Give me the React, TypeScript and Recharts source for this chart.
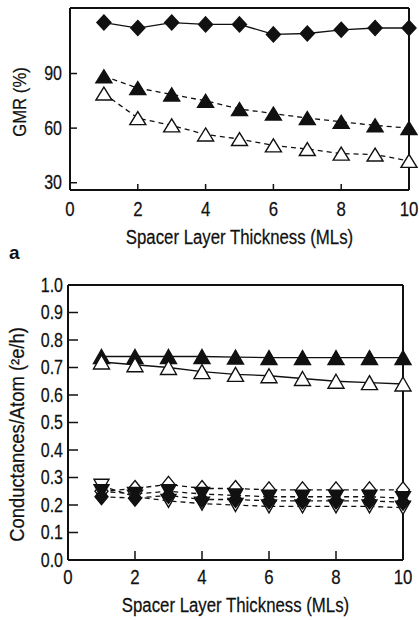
import React from 'react';
import { LineChart, Line, XAxis, YAxis, ReferenceLine } from 'recharts';

// ---------- data ----------
const thickness = [1, 2, 3, 4, 5, 6, 7, 8, 9, 10];

// panel (top): GMR (%)
const gmrFilledDiamond = [118, 115, 118, 117, 117, 111.5, 112, 114, 115, 115];
const gmrFilledTriangle = [88.5, 82, 78.5, 75, 70.5, 68, 65.5, 63.5, 61.5, 60];
const gmrOpenTriangle = [79, 65.5, 61.5, 56.5, 54, 50.5, 48.5, 46, 45.5, 42];
const gmrXTicks = [0, 2, 4, 6, 8, 10];
const gmrYTicks = [30, 60, 90];

// panel a (bottom): conductances / atom
const condFilledTriangle = [0.74, 0.74, 0.74, 0.74, 0.738, 0.736, 0.736, 0.736, 0.736, 0.736];
const condOpenTriangle = [0.72, 0.71, 0.7, 0.685, 0.675, 0.67, 0.66, 0.65, 0.645, 0.64];
const condOpenDiamond = [0.25, 0.26, 0.275, 0.26, 0.26, 0.255, 0.255, 0.255, 0.255, 0.255];
const condFilledDown = [0.25, 0.24, 0.25, 0.24, 0.235, 0.23, 0.23, 0.23, 0.23, 0.225];
const condFilledDiamond = [0.23, 0.225, 0.235, 0.22, 0.22, 0.215, 0.215, 0.215, 0.215, 0.21];
const condOpenDown = [0.27, 0.23, 0.215, 0.205, 0.2, 0.195, 0.195, 0.195, 0.195, 0.19];
const condXTicks = [0, 2, 4, 6, 8, 10];
const condYTicks = [0, 0.1, 0.2, 0.3, 0.4, 0.5, 0.6, 0.7, 0.8, 0.9, 1.0];

const gmrData = thickness.map((x, i) => ({
  x,
  fd: gmrFilledDiamond[i],
  ft: gmrFilledTriangle[i],
  ot: gmrOpenTriangle[i],
}));

const condData = thickness.map((x, i) => ({
  x,
  ft: condFilledTriangle[i],
  ot: condOpenTriangle[i],
  od: condOpenDiamond[i],
  fdn: condFilledDown[i],
  fd: condFilledDiamond[i],
  odn: condOpenDown[i],
}));

// ---------- styling ----------
const INK = '#111';
const FONT = "'Liberation Sans', Arial, Helvetica, sans-serif";

const mkDot = (shape: 'diamond' | 'up' | 'down', filled: boolean, w: number, h: number) => (props: any) => {
  const { cx, cy, index } = props;
  if (cx == null || cy == null) return <g key={`e-${index}`} />;
  let d = '';
  if (shape === 'diamond') d = `M${cx},${cy - h / 2}L${cx + w / 2},${cy}L${cx},${cy + h / 2}L${cx - w / 2},${cy}Z`;
  else if (shape === 'up') d = `M${cx},${cy - h / 2}L${cx + w / 2},${cy + h / 2}L${cx - w / 2},${cy + h / 2}Z`;
  else d = `M${cx},${cy + h / 2}L${cx + w / 2},${cy - h / 2}L${cx - w / 2},${cy - h / 2}Z`;
  return (
    <path
      key={`dot-${shape}-${index}`}
      d={d}
      fill={filled ? INK : '#fff'}
      stroke={INK}
      strokeWidth={1.4}
    />
  );
};

const XTick = (props: any) => {
  const { x, y, payload, fmt } = props;
  const label = fmt ? fmt(payload.value) : String(payload.value);
  return (
    <text
      transform={`translate(${x},${y}) scale(0.8,1)`}
      textAnchor="middle"
      dominantBaseline="central"
      fontSize={21}
      fontFamily={FONT}
      fill={INK}
      stroke={INK}
      strokeWidth={0.25}
    >
      {label}
    </text>
  );
};

const YTick = (props: any) => {
  const { x, y, payload, fmt } = props;
  const label = fmt ? fmt(payload.value) : String(payload.value);
  return (
    <text
      transform={`translate(${x},${y}) scale(0.8,1)`}
      textAnchor="end"
      dominantBaseline="central"
      fontSize={20}
      fontFamily={FONT}
      fill={INK}
      stroke={INK}
      strokeWidth={0.25}
    >
      {label}
    </text>
  );
};

const XTitle = (props: any) => {
  const { viewBox, dy, text } = props;
  const vb = viewBox || { x: 0, y: 0, width: 0, height: 0 };
  const cx = vb.x + vb.width / 2;
  const cy = vb.y + dy;
  return (
    <text
      transform={`translate(${cx},${cy}) scale(0.8,1)`}
      textAnchor="middle"
      dominantBaseline="central"
      fontSize={21}
      fontFamily={FONT}
      fill={INK}
      stroke={INK}
      strokeWidth={0.25}
    >
      {text}
    </text>
  );
};

const YTitle = (props: any) => {
  const { viewBox, dx, dy, text, size, squeeze } = props;
  const vb = viewBox || { x: 0, y: 0, width: 0, height: 0 };
  const cx = vb.x + dx;
  const cy = vb.y + vb.height / 2 + dy;
  return (
    <text
      transform={`translate(${cx},${cy}) rotate(-90) scale(${squeeze},1)`}
      textAnchor="middle"
      dominantBaseline="central"
      fontSize={size}
      fontFamily={FONT}
      fill={INK}
      stroke={INK}
      strokeWidth={0.25}
    >
      {text}
    </text>
  );
};

const one = (v: number) => v.toFixed(1);

export default function App() {
  return (
    <div style={{ position: 'absolute', left: 0, top: 0, width: 419, height: 620, background: '#fff' }}>
      {/* top panel */}
      <div style={{ position: 'absolute', left: 0, top: 0 }}>
        <LineChart width={419} height={250} data={gmrData} margin={{ top: 8, right: 10, left: 0, bottom: 0 }}>
          <XAxis
            type="number"
            dataKey="x"
            domain={[0, 10]}
            ticks={gmrXTicks}
            interval={0}
            height={60}
            tickSize={-6}
            tickMargin={25}
            tick={<XTick />}
            axisLine={{ stroke: INK, strokeWidth: 2 }}
            tickLine={{ stroke: INK, strokeWidth: 1.5 }}
            label={<XTitle dy={47} text="Spacer Layer Thickness (MLs)" />}
          />
          <YAxis
            type="number"
            domain={[26, 126]}
            ticks={gmrYTicks}
            interval={0}
            width={70}
            tickSize={-7}
            tickMargin={15}
            allowDataOverflow
            tick={<YTick />}
            axisLine={{ stroke: INK, strokeWidth: 2 }}
            tickLine={{ stroke: INK, strokeWidth: 1.5 }}
            label={<YTitle dx={20} dy={3} text="GMR (%)" size={19} squeeze={0.88} />}
          />
          <ReferenceLine y={126} stroke={INK} strokeWidth={2} />
          <ReferenceLine x={10} stroke={INK} strokeWidth={2} />
          <Line
            dataKey="fd"
            stroke={INK}
            strokeWidth={1.3}
            isAnimationActive={false}
            dot={mkDot('diamond', true, 14, 15)}
            activeDot={false}
          />
          <Line
            dataKey="ft"
            stroke={INK}
            strokeWidth={1.3}
            strokeDasharray="5 4"
            isAnimationActive={false}
            dot={mkDot('up', true, 16, 13)}
            activeDot={false}
          />
          <Line
            dataKey="ot"
            stroke={INK}
            strokeWidth={1.3}
            strokeDasharray="5 4"
            isAnimationActive={false}
            dot={mkDot('up', false, 16, 13)}
            activeDot={false}
          />
        </LineChart>
      </div>

      {/* panel label */}
      <div
        style={{
          position: 'absolute',
          left: 9,
          top: 242,
          fontFamily: FONT,
          fontWeight: 'bold',
          fontSize: 19,
          color: INK,
          lineHeight: '22px',
        }}
      >
        a
      </div>

      {/* bottom panel */}
      <div style={{ position: 'absolute', left: 0, top: 250 }}>
        <LineChart width={419} height={370} data={condData} margin={{ top: 35, right: 16, left: 0, bottom: 0 }}>
          <XAxis
            type="number"
            dataKey="x"
            domain={[0, 10]}
            ticks={condXTicks}
            interval={0}
            height={60}
            tickSize={-9}
            tickMargin={26}
            tick={<XTick />}
            axisLine={{ stroke: INK, strokeWidth: 2 }}
            tickLine={{ stroke: INK, strokeWidth: 1.5 }}
            label={<XTitle dy={45} text="Spacer Layer Thickness (MLs)" />}
          />
          <YAxis
            type="number"
            domain={[0, 1]}
            ticks={condYTicks}
            interval={0}
            width={68}
            tickSize={-10}
            tickMargin={15}
            allowDataOverflow
            tick={<YTick fmt={one} />}
            axisLine={{ stroke: INK, strokeWidth: 2 }}
            tickLine={{ stroke: INK, strokeWidth: 1.5 }}
            label={<YTitle dx={17} dy={12} text="Conductances/Atom (²e/h)" size={20} squeeze={0.92} />}
          />
          <ReferenceLine y={1} stroke={INK} strokeWidth={2} />
          <ReferenceLine x={10} stroke={INK} strokeWidth={2} />
          <Line
            dataKey="ft"
            stroke={INK}
            strokeWidth={1.3}
            isAnimationActive={false}
            dot={mkDot('up', true, 16, 14)}
            activeDot={false}
          />
          <Line
            dataKey="ot"
            stroke={INK}
            strokeWidth={1.3}
            isAnimationActive={false}
            dot={mkDot('up', false, 16, 14)}
            activeDot={false}
          />
          <Line
            dataKey="od"
            stroke={INK}
            strokeWidth={1.3}
            strokeDasharray="5 4"
            isAnimationActive={false}
            dot={mkDot('diamond', false, 13, 16)}
            activeDot={false}
          />
          <Line
            dataKey="odn"
            stroke={INK}
            strokeWidth={1.3}
            strokeDasharray="5 4"
            isAnimationActive={false}
            dot={mkDot('down', false, 15, 13)}
            activeDot={false}
          />
          <Line
            dataKey="fdn"
            stroke={INK}
            strokeWidth={1.3}
            strokeDasharray="5 4"
            isAnimationActive={false}
            dot={mkDot('down', true, 15, 13)}
            activeDot={false}
          />
          <Line
            dataKey="fd"
            stroke={INK}
            strokeWidth={1.3}
            strokeDasharray="5 4"
            isAnimationActive={false}
            dot={mkDot('diamond', true, 13, 16)}
            activeDot={false}
          />
        </LineChart>
      </div>
    </div>
  );
}
